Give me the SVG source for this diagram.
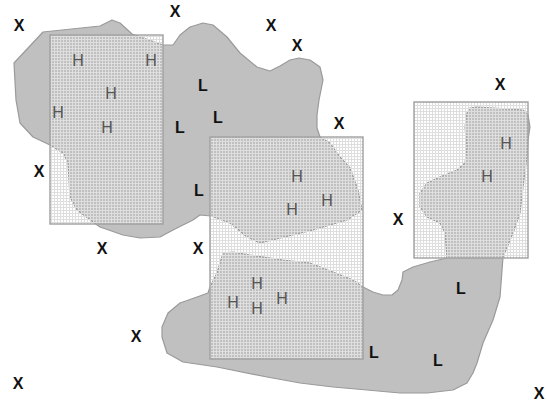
<svg xmlns="http://www.w3.org/2000/svg" width="547" height="408" viewBox="0 0 547 408">
<style>
.blob{fill:#c0c0c0;stroke:#9a9a9a;stroke-width:1.2;stroke-linejoin:round}
.box{fill:url(#grid);stroke:#a0a0a0;stroke-width:1.4}
.x,.l{font-family:"Liberation Sans",Arial,sans-serif;font-size:16px;font-weight:bold;fill:#111;text-anchor:middle}
.h{font-family:"Liberation Sans",Arial,sans-serif;font-size:16px;fill:#555;text-anchor:middle}
</style>
<defs>
<pattern id="grid" width="3" height="3" patternUnits="userSpaceOnUse">
<rect x="0" y="0" width="3" height="1" fill="#dedede"/>
<rect x="0" y="0" width="1" height="3" fill="#dedede"/>
</pattern>
</defs>
<rect width="547" height="408" fill="#fff"/>
<g id="regions">
<path id="blob-upper" class="blob" d="M14,63 L43,32 L100,26 L112,20 L120,23 L132,34 L163,45 L173,45 L180,35 L190,27 L203,23 L213,25 L227,37 L240,53 L257,67 L270,71 L280,66 L290,60 L299,58 L310,60 L320,67 L323,80 L319,100 L317,115 L317,128 L320,137 L330,143 L340,157 L350,168 L358,190 L362,210 L347,220 L313,230 L260,243 L247,237 L230,223 L211,216 L200,215 L193,220 L173,230 L160,237 L140,238 L123,235 L100,227 L93,222 L77,210 L70,197 L68,163 L63,153 L50,145 L33,137 L20,123 L16,100 Z"/>
<path id="blob-lower" class="blob" d="M223,253 L233,252 L250,255 L283,260 L310,263 L333,272 L353,280 L363,287 L373,292 L383,295 L392,295 L398,290 L402,280 L403,272 L413,267 L430,262 L447,258 L445,233 L440,223 L427,217 L420,207 L420,193 L427,183 L440,177 L457,170 L465,163 L467,147 L465,127 L467,113 L470,108 L477,107 L523,110 L528,115 L530,127 L528,140 L527,157 L523,187 L520,213 L513,233 L503,257 L500,297 L493,320 L483,343 L477,363 L473,373 L467,383 L453,390 L427,393 L400,393 L367,390 L333,387 L300,383 L267,377 L217,367 L183,362 L167,353 L162,337 L162,327 L168,313 L180,303 L197,297 L208,293 L210,287 L217,273 Z"/>
</g>
<g id="boxes">
<rect id="box-left" class="box" x="50" y="35" width="113" height="189"/>
<rect id="box-middle" class="box" x="210" y="137" width="153" height="222"/>
<rect id="box-right" class="box" x="414" y="102" width="114" height="156"/>
</g>
<g id="labels-x">
<text class="x" x="19" y="31">X</text>
<text class="x" x="175" y="17">X</text>
<text class="x" x="271" y="31">X</text>
<text class="x" x="297" y="51">X</text>
<text class="x" x="500" y="90">X</text>
<text class="x" x="339" y="129">X</text>
<text class="x" x="39" y="177">X</text>
<text class="x" x="102" y="254">X</text>
<text class="x" x="198" y="254">X</text>
<text class="x" x="398" y="225">X</text>
<text class="x" x="136" y="342">X</text>
<text class="x" x="18" y="389">X</text>
<text class="x" x="539" y="399">X</text>
</g>
<g id="labels-l">
<text class="l" x="203" y="91">L</text>
<text class="l" x="180" y="133">L</text>
<text class="l" x="218" y="123">L</text>
<text class="l" x="199" y="196">L</text>
<text class="l" x="461" y="294">L</text>
<text class="l" x="374" y="358">L</text>
<text class="l" x="438" y="366">L</text>
</g>
<g id="labels-h">
<text class="h" x="78" y="66">H</text>
<text class="h" x="151" y="66">H</text>
<text class="h" x="111" y="99">H</text>
<text class="h" x="58" y="118">H</text>
<text class="h" x="107" y="133">H</text>
<text class="h" x="297" y="182">H</text>
<text class="h" x="327" y="206">H</text>
<text class="h" x="292" y="215">H</text>
<text class="h" x="257" y="289">H</text>
<text class="h" x="233" y="308">H</text>
<text class="h" x="257" y="314">H</text>
<text class="h" x="282" y="304">H</text>
<text class="h" x="506" y="149">H</text>
<text class="h" x="487" y="182">H</text>
</g>
</svg>
